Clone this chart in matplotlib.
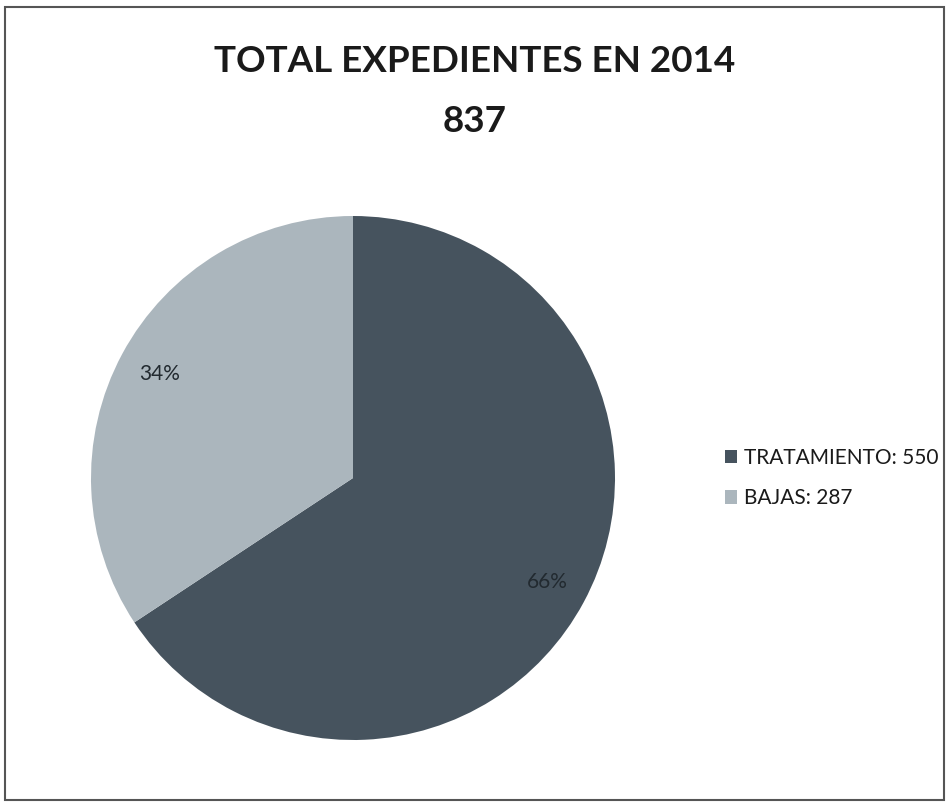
import matplotlib.pyplot as plt
from matplotlib.patches import Rectangle

plt.rcParams['font.family'] = ['Lato', 'DejaVu Sans']

# 데이터
labels = ['TRATAMIENTO: 550', 'BAJAS: 287']
values = [550, 287]
title_lines = ['TOTAL EXPEDIENTES EN 2014', '837']

colors = ['#46535e', '#abb6bd']

fig = plt.figure(figsize=(9.5, 8.07), dpi=100)
fig.patch.set_facecolor('white')

# 바깥 테두리
fig.patches.append(Rectangle((5 / 950, 7 / 807), 939 / 950, 793 / 807,
                             transform=fig.transFigure, fill=False,
                             edgecolor='#555555', lw=1.5))

# 파이 축
ax = fig.add_axes([(353 - 262) / 950, (807 - 478 - 262) / 807, 524 / 950, 524 / 807])
wedges, texts, autotexts = ax.pie(values, colors=colors, startangle=90, counterclock=False,
                                  autopct='%1.0f%%', pctdistance=0.84,
                                  textprops={'fontsize': 15, 'color': '#222a30'})
ax.set_xlim(-1, 1)
ax.set_ylim(-1, 1)
ax.set_aspect('equal')
ax.axis('off')

# 제목
fig.text(0.5, 1 - 62 / 807, title_lines[0], ha='center', va='center',
         fontsize=26.5, fontweight='bold', color='#1a1a1a')
fig.text(0.5, 1 - 122 / 807, title_lines[1], ha='center', va='center',
         fontsize=26.5, fontweight='bold', color='#1a1a1a')

# 범례
fig.legend(wedges, labels, loc='center left', bbox_to_anchor=(706 / 950, 1 - 478 / 807),
           frameon=False, fontsize=15, handlelength=0.6, handleheight=0.6,
           handletextpad=0.3, labelspacing=1.0, labelcolor='#1a1a1a')

plt.savefig('out.png', dpi=100)
plt.close()
